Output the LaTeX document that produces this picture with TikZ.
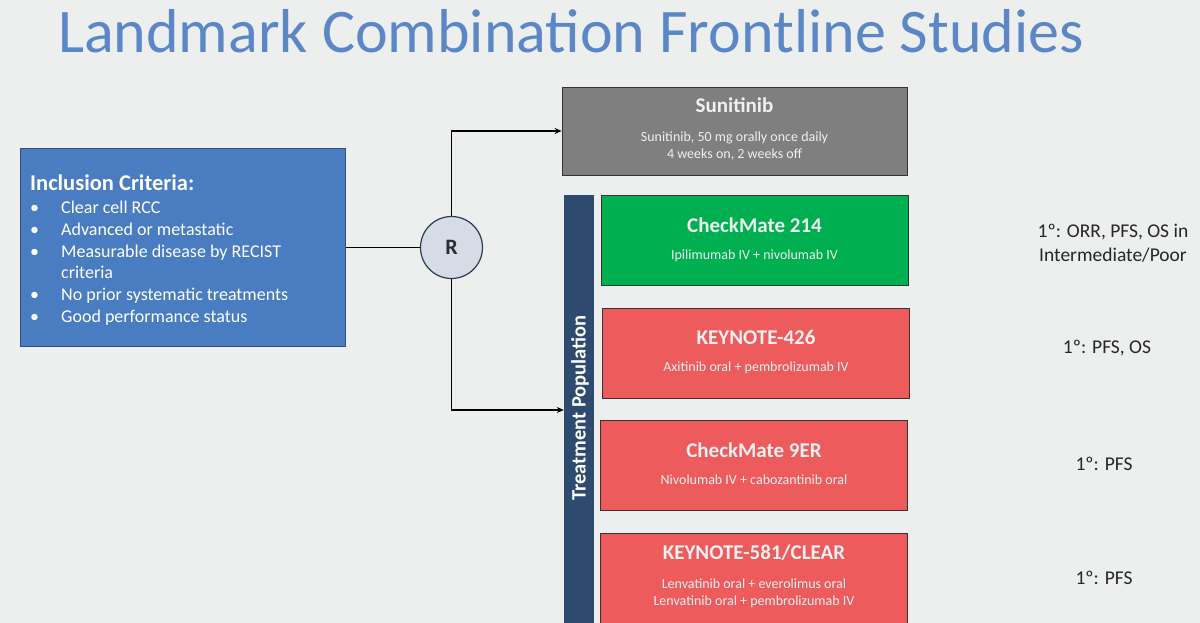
\documentclass[tikz,border=0pt]{standalone}
\usepackage{fontspec}
\setmainfont{Carlito}
\usetikzlibrary{arrows.meta}
\definecolor{bg}{HTML}{EDEEEE}
\definecolor{titleblue}{HTML}{5B87C6}
\definecolor{inclblue}{HTML}{4A7CC1}
\definecolor{inclborder}{HTML}{2F4F86}
\definecolor{rfill}{HTML}{D6DCE5}
\definecolor{rborder}{HTML}{2E3A4E}
\definecolor{sungray}{HTML}{7F7F7F}
\definecolor{navy}{HTML}{2E4A6E}
\definecolor{cmgreen}{HTML}{00B050}
\definecolor{knred}{HTML}{EE5B5C}
\definecolor{darktext}{HTML}{262626}
\tikzset{
  armbox/.style={draw=black!80, line width=0.8pt, minimum width=307pt, minimum height=90pt, inner sep=0pt},
  armtitle/.style={text=white!94!black, font=\bfseries\fontsize{21}{24}\selectfont, inner sep=0pt},
  armsub/.style={text=white!94!black, font=\fontsize{14}{17}\selectfont, align=center, inner sep=0pt},
  bulletitem/.style={text=white, font=\fontsize{18}{21}\selectfont, anchor=base west, inner sep=0pt},
  endpoint/.style={text=darktext, font=\fontsize{19.5}{24}\selectfont, align=center, inner sep=0pt},
  conn/.style={line width=1.3pt, black},
  arrow/.style={conn, -{Stealth[length=7pt,width=6pt]}}
}
\begin{document}
\begin{tikzpicture}[x=1pt,y=-1pt]
\fill[bg] (0,0) rectangle (1200,623);
\useasboundingbox (0,0) rectangle (1200,623);

\node[text=titleblue, font=\fontsize{62}{68}\selectfont, anchor=base, inner sep=0pt] (title) at (571,53) {Landmark Combination Frontline Studies};

% inclusion box
\node[draw=inclborder, fill=inclblue, line width=1pt, minimum width=325pt, minimum height=197pt, inner sep=0pt] (incl) at (182.5,247.5) {};
\node[text=white, font=\bfseries\fontsize{22.5}{24}\selectfont, anchor=base west, inner sep=0pt] (ic) at (30,190) {Inclusion Criteria:};
\node[bulletitem] (b1) at (30,213) {•};
\node[bulletitem] (t1) at (61,213) {Clear cell RCC};
\node[bulletitem] (b2) at (30,235) {•};
\node[bulletitem] (t2) at (61,235) {Advanced or metastatic};
\node[bulletitem] (b3) at (30,257) {•};
\node[bulletitem] (t3) at (61,257) {Measurable disease by RECIST};
\node[bulletitem] (t3b) at (61,278) {criteria};
\node[bulletitem] (b4) at (30,300) {•};
\node[bulletitem] (t4) at (61,300) {No prior systematic treatments};
\node[bulletitem] (b5) at (30,322) {•};
\node[bulletitem] (t5) at (61,322) {Good performance status};

% randomisation
\node[circle, draw=rborder, fill=rfill, line width=1.2pt, minimum size=62pt, inner sep=0pt, font=\bfseries\fontsize{22}{24}\selectfont, text=darktext!80!navy] (R) at (451.5,247.5) {R};

% sunitinib
\node[draw=black!80, fill=sungray, line width=0.8pt, minimum width=345pt, minimum height=88pt, inner sep=0pt] (sun) at (734.5,131) {};
\node[armtitle] (sunt) at (734.5,105) {Sunitinib};
\node[armsub] (suns) at (734.5,146) {Sunitinib, 50 mg orally once daily\\4 weeks on, 2 weeks off};

% treatment population bar
\node[fill=navy, minimum width=30pt, minimum height=430pt, inner sep=0pt] (tp) at (579,410) {};
\node[rotate=90, text=white, font=\bfseries\fontsize{20.5}{22}\selectfont, inner sep=0pt] (tpt) at (580,408) {Treatment Population};

% arms
\node[armbox, fill=cmgreen] (cm214) at (754.5,240.5) {};
\node[armtitle] (cm214t) at (754.5,225) {CheckMate 214};
\node[armsub] (cm214s) at (754.5,256) {Ipilimumab IV + nivolumab IV};

\node[armbox, fill=knred] (kn426) at (756,353) {};
\node[armtitle] (kn426t) at (756,337) {KEYNOTE-426};
\node[armsub] (kn426s) at (756,368) {Axitinib oral + pembrolizumab IV};

\node[armbox, fill=knred] (cm9er) at (754,465) {};
\node[armtitle] (cm9ert) at (754,450) {CheckMate 9ER};
\node[armsub] (cm9ers) at (754,480) {Nivolumab IV + cabozantinib oral};

\node[armbox, fill=knred] (kn581) at (754,578) {};
\node[armtitle] (kn581t) at (754,553) {KEYNOTE-581/CLEAR};
\node[armsub] (kn581s) at (754,593) {Lenvatinib oral + everolimus oral\\Lenvatinib oral + pembrolizumab IV};

% endpoints
\node[endpoint] (e1) at (1113,243) {1º: ORR, PFS, OS in\\Intermediate/Poor};
\node[endpoint] (e2) at (1107,348) {1º: PFS, OS};
\node[endpoint] (e3) at (1104,464) {1º: PFS};
\node[endpoint] (e4) at (1104,578) {1º: PFS};

% connectors
\draw[conn] (incl.east) -- (R.west);
\draw[arrow] (R.north) |- (sun.west);
\draw[arrow] (R.south) |- (tp.west);
\end{tikzpicture}
\end{document}
